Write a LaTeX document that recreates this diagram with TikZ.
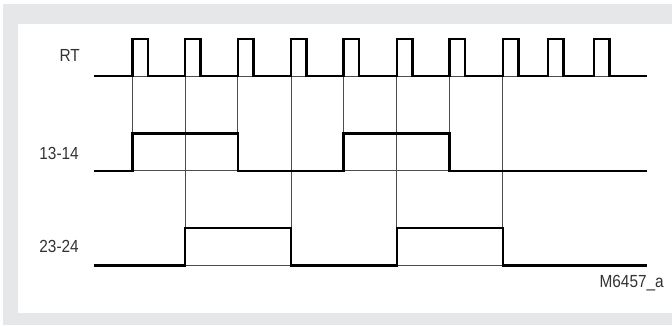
\documentclass[tikz,border=0pt]{standalone}
\usepackage{fontspec}
\setmainfont{Liberation Sans}[FakeStretch=0.88]
\usepackage{tikz}
\usetikzlibrary{positioning}
\definecolor{marcoGris}{HTML}{E6E7E8}
\definecolor{textoGris}{HTML}{333333}
\tikzset{
  senal/.style={line width=2.4pt, line join=miter, line cap=rect},
  guia/.style={line width=0.7pt, black!70},
  etiqueta/.style={anchor=east, inner sep=0pt, text=textoGris, font=\fontsize{17.5}{18}\selectfont},
}

\begin{document}
\begin{tikzpicture}[x=1pt, y=-1pt]
\useasboundingbox (0,0) rectangle (672,325);
\fill[marcoGris] (3,4) rectangle (672,325);
\fill[white] (18,24) rectangle (672,313);

% lineas guia verticales
\foreach \t in {132.3,237.7,343.3,449.3}
  \draw[guia] (\t,76) -- (\t,133.3);
\foreach \t in {185,291,396.7,502.7}
  \draw[guia] (\t,76) -- (\t,227.7);

% niveles bajos finos
\draw[guia] (95,76) -- (646,76);
\draw[guia] (95,170.7) -- (646,170.7);
\draw[guia] (95,265.3) -- (646,265.3);

% RT
\draw[senal] (95,76)
  \foreach \r in {132.3,185,237.7,291,343.3,396.7,449.3,502.7,548,593.7} {
    -- (\r,76) -- (\r,39) -- (\r+15.6,39) -- (\r+15.6,76)
  } -- (646,76);

% 13-14
\draw[senal] (95,170.7) -- (132.3,170.7) -- (132.3,133.3) -- (237.7,133.3) -- (237.7,170.7)
  -- (343.3,170.7) -- (343.3,133.3) -- (449.3,133.3) -- (449.3,170.7) -- (646,170.7);

% 23-24
\draw[senal] (95,265.3) -- (185,265.3) -- (185,227.7) -- (291,227.7) -- (291,265.3)
  -- (396.7,265.3) -- (396.7,227.7) -- (502.7,227.7) -- (502.7,265.3) -- (646,265.3);

\node[etiqueta] (rt) at (80,55) {RT};
\node[etiqueta] (k1) at (79,153.5) {13-14};
\node[etiqueta] (k2) at (79,246) {23-24};
\node[etiqueta] (codigo) at (664,283) {M6457\_a};
\end{tikzpicture}
\end{document}
